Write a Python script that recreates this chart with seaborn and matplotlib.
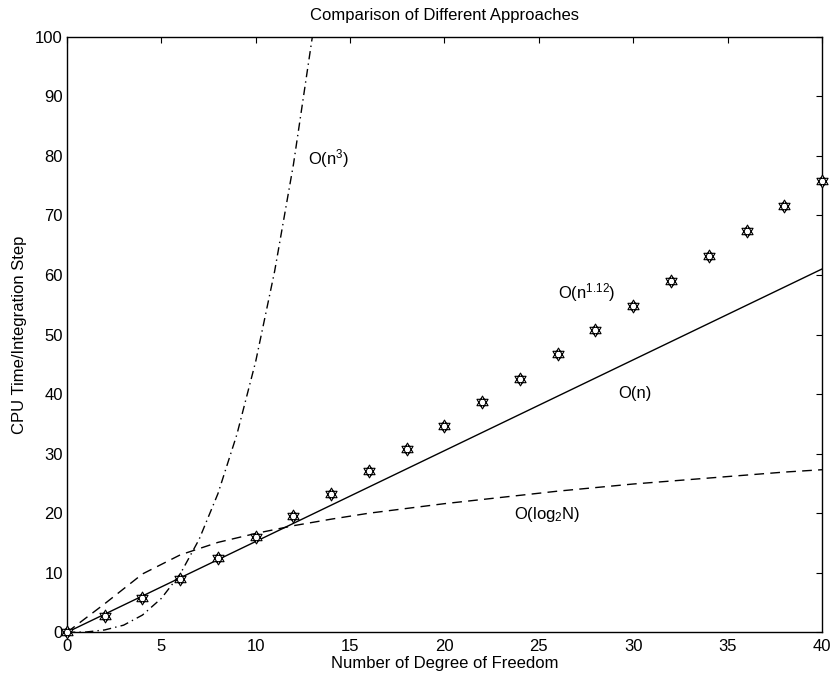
import matplotlib
matplotlib.use("Agg")
import matplotlib.pyplot as plt
from matplotlib.path import Path
import seaborn as sns
import pandas as pd
import numpy as np

# Data
dof = [0, 2, 4, 6, 8, 10, 12, 14, 16, 18, 20, 22, 24, 26, 28, 30, 32, 34, 36, 38, 40]
measured = [0.0, 2.7, 5.8, 9.0, 12.4, 16.0, 19.6, 23.2, 27.0, 30.8, 34.7, 38.6, 42.6,
            46.7, 50.8, 54.8, 59.0, 63.1, 67.3, 71.5, 75.7]
log_curve = [0.0, 4.8, 9.8, 13.0, 15.1, 16.6, 17.9, 19.0, 20.0, 20.8, 21.6, 22.3, 23.0,
             23.7, 24.3, 24.9, 25.4, 25.9, 26.4, 26.9, 27.3]
lin_x = [0, 40]
lin_y = [0.0, 61.0]
cube_x = [0, 1, 2, 3, 4, 5, 6, 7, 8, 9, 10, 11, 12, 13]
cube_y = [0.0, 0.05, 0.4, 1.2, 2.9, 5.7, 9.8, 15.6, 23.3, 33.2, 45.5, 60.6, 78.6, 100.0]

labels = ["O(n$^3$)", "O(n$^{1.12}$)", "O(n)", "O(log$_2$N)"]
label_x = [12.75, 26.0, 29.2, 23.7]
label_y = [79.6, 57.0, 40.1, 19.7]

sns.set_theme(style="white")
plt.rcParams["font.family"] = ["Liberation Sans", "DejaVu Sans"]
plt.rcParams["mathtext.fontset"] = "custom"
plt.rcParams["mathtext.rm"] = "Liberation Sans"
plt.rcParams["mathtext.it"] = "Liberation Sans"
plt.rcParams["text.color"] = "black"
plt.rcParams["axes.labelcolor"] = "black"

# six-pointed star marker (two overlapping triangles)
up = [(np.cos(np.radians(a)), np.sin(np.radians(a))) for a in (90, 210, 330)]
dn = [(np.cos(np.radians(a)), np.sin(np.radians(a))) for a in (270, 30, 150)]
verts = up + [up[0]] + dn + [dn[0]]
codes = [Path.MOVETO, Path.LINETO, Path.LINETO, Path.CLOSEPOLY] * 2
hexagram = Path(verts, codes)

fig = plt.figure(figsize=(8.33, 6.77), dpi=100)
ax = fig.add_axes([0.0804, 0.0660, 0.9064, 0.8798])

df_log = pd.DataFrame({"x": dof, "y": log_curve})
df_pts = pd.DataFrame({"x": dof, "y": measured})

sns.lineplot(x=lin_x, y=lin_y, color="black", lw=1.0, ax=ax)
sns.lineplot(data=df_log, x="x", y="y", color="black", lw=1.0,
             linestyle=(0, (7, 4.5)), ax=ax)
sns.lineplot(x=cube_x, y=cube_y, color="black", lw=1.0,
             linestyle=(0, (6, 3, 1, 3)), ax=ax)
sns.scatterplot(data=df_pts, x="x", y="y", marker=hexagram, s=85,
                facecolor="white", edgecolor="black", linewidth=0.8, ax=ax,
                zorder=5, clip_on=False)

for t, x, y in zip(labels, label_x, label_y):
    ax.text(x, y, t, fontsize=12, ha="left", va="center", color="black")

ax.set_xlim(0, 40)
ax.set_ylim(0, 100)
ax.set_xticks(range(0, 41, 5))
ax.set_yticks(range(0, 101, 10))
ax.tick_params(direction="in", length=4, width=0.8, top=True, right=True,
               labelsize=12, colors="black")
ax.tick_params(axis="x", pad=5)
ax.tick_params(axis="y", pad=3)
for s in ax.spines.values():
    s.set_color("black")
    s.set_linewidth(1.0)

ax.set_title("Comparison of Different Approaches", fontsize=12, pad=12)
ax.set_xlabel("Number of Degree of Freedom", fontsize=12, labelpad=1)
ax.set_ylabel("CPU Time/Integration Step", fontsize=12, labelpad=6)

fig.savefig("out.png", dpi=100)
